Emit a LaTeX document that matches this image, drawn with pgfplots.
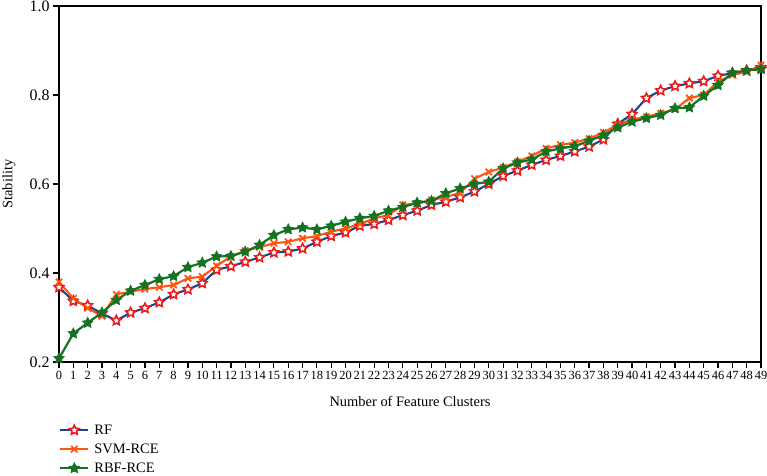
\documentclass[border=0pt]{standalone}
\usepackage{pgfplots}
\pgfplotsset{compat=1.18}
\usepackage{fontspec}
\setmainfont{Liberation Serif}
\definecolor{rfblue}{RGB}{20,70,150}
\definecolor{rfred}{RGB}{235,25,25}
\definecolor{svmorange}{RGB}{255,85,15}
\definecolor{rbfgreen}{RGB}{20,115,35}
\pgfdeclareplotmark{fstar}{%
  \pgfpathmoveto{\pgfpointpolar{90}{\pgfplotmarksize}}%
  \pgfpathlineto{\pgfpointpolar{126}{0.5\pgfplotmarksize}}%
  \pgfpathlineto{\pgfpointpolar{162}{\pgfplotmarksize}}%
  \pgfpathlineto{\pgfpointpolar{198}{0.5\pgfplotmarksize}}%
  \pgfpathlineto{\pgfpointpolar{234}{\pgfplotmarksize}}%
  \pgfpathlineto{\pgfpointpolar{270}{0.5\pgfplotmarksize}}%
  \pgfpathlineto{\pgfpointpolar{306}{\pgfplotmarksize}}%
  \pgfpathlineto{\pgfpointpolar{342}{0.5\pgfplotmarksize}}%
  \pgfpathlineto{\pgfpointpolar{18}{\pgfplotmarksize}}%
  \pgfpathlineto{\pgfpointpolar{54}{0.5\pgfplotmarksize}}%
  \pgfpathclose
  \pgfusepathqfillstroke
}
\begin{document}
\begin{tikzpicture}[x=1bp,y=1bp]
\useasboundingbox (-59bp,-114bp) rectangle (708bp,362bp);
\begin{axis}[
  at={(0,0)}, anchor=south west,
  scale only axis, width=702bp, height=356bp,
  xmin=0, xmax=49, ymin=0.2, ymax=1.0,
  xtick={0,1,...,49},
  ytick={0.2,0.4,0.6,0.8,1.0},
  yticklabel style={/pgf/number format/fixed,/pgf/number format/fixed zerofill,/pgf/number format/precision=1,font=\fontsize{16}{18}\selectfont},
  xticklabel style={font=\fontsize{12.5}{14}\selectfont, inner xsep=0pt},
  /pgf/number format/assume math mode=true,
  tick align=outside, xtick pos=bottom, ytick pos=left,
  major tick length=6bp,
  every tick/.style={black, line width=1.2pt},
  axis line style={black, line width=1.4pt},
  xlabel={Number of Feature Clusters},
  ylabel={Stability},
  xlabel style={font=\fontsize{14.5}{16}\selectfont, at={(axis description cs:0.5,-0.11)}, anchor=center},
  ylabel style={font=\fontsize{14.5}{16}\selectfont, at={(axis description cs:-0.0712,0.5)}, anchor=center},
  clip=false,
  legend style={draw=none, fill=none, at={(axis description cs:0,-0.17)}, anchor=north west,
    font=\fontsize{14.5}{16}\selectfont, row sep=4bp, inner xsep=0pt, inner ysep=0pt,
    nodes={inner xsep=5bp}},
  legend cell align=left,
  legend image code/.code={
    \draw[mark repeat=2,mark phase=2] plot coordinates {(0bp,0bp) (14bp,0bp) (28bp,0bp)};
  },
]
\addplot[rfblue, line width=2.1pt, mark=fstar, mark size=5bp,
  mark options={draw=rfred, fill=white, line width=1.6pt, solid}]
coordinates {
(0,0.368) (1,0.337) (2,0.327) (3,0.309) (4,0.293) (5,0.311) (6,0.321) (7,0.334) (8,0.352) (9,0.363)
(10,0.377) (11,0.407) (12,0.415) (13,0.425) (14,0.435) (15,0.446) (16,0.448) (17,0.455) (18,0.470) (19,0.483)
(20,0.491) (21,0.506) (22,0.510) (23,0.519) (24,0.530) (25,0.540) (26,0.553) (27,0.560) (28,0.570) (29,0.583)
(30,0.600) (31,0.618) (32,0.630) (33,0.643) (34,0.654) (35,0.663) (36,0.673) (37,0.684) (38,0.700) (39,0.735)
(40,0.757) (41,0.793) (42,0.810) (43,0.820) (44,0.826) (45,0.831) (46,0.843) (47,0.849) (48,0.855) (49,0.862)
};
\addlegendentry{RF}
\addplot[svmorange, line width=2.1pt, mark=x, mark size=4.5bp,
  mark options={draw=svmorange, line width=1.8pt, solid}]
coordinates {
(0,0.380) (1,0.343) (2,0.321) (3,0.303) (4,0.352) (5,0.358) (6,0.364) (7,0.368) (8,0.373) (9,0.388)
(10,0.392) (11,0.416) (12,0.437) (13,0.450) (14,0.458) (15,0.467) (16,0.470) (17,0.478) (18,0.483) (19,0.493)
(20,0.500) (21,0.510) (22,0.523) (23,0.530) (24,0.553) (25,0.556) (26,0.564) (27,0.571) (28,0.580) (29,0.612)
(30,0.627) (31,0.637) (32,0.650) (33,0.663) (34,0.680) (35,0.688) (36,0.693) (37,0.702) (38,0.716) (39,0.733)
(40,0.745) (41,0.751) (42,0.759) (43,0.768) (44,0.793) (45,0.800) (46,0.830) (47,0.845) (48,0.852) (49,0.867)
};
\addlegendentry{SVM-RCE}
\addplot[rbfgreen, line width=2.2pt, mark=fstar, mark size=5bp,
  mark options={draw=rbfgreen, fill=rbfgreen, line width=1.2pt, solid}]
coordinates {
(0,0.208) (1,0.264) (2,0.288) (3,0.311) (4,0.339) (5,0.360) (6,0.373) (7,0.386) (8,0.393) (9,0.413)
(10,0.423) (11,0.437) (12,0.438) (13,0.448) (14,0.463) (15,0.485) (16,0.498) (17,0.502) (18,0.498) (19,0.506)
(20,0.515) (21,0.523) (22,0.528) (23,0.540) (24,0.548) (25,0.558) (26,0.562) (27,0.579) (28,0.590) (29,0.600)
(30,0.605) (31,0.635) (32,0.648) (33,0.655) (34,0.673) (35,0.680) (36,0.685) (37,0.697) (38,0.710) (39,0.727)
(40,0.740) (41,0.748) (42,0.755) (43,0.770) (44,0.772) (45,0.798) (46,0.822) (47,0.850) (48,0.855) (49,0.858)
};
\addlegendentry{RBF-RCE}
\end{axis}
\end{tikzpicture}
\end{document}
